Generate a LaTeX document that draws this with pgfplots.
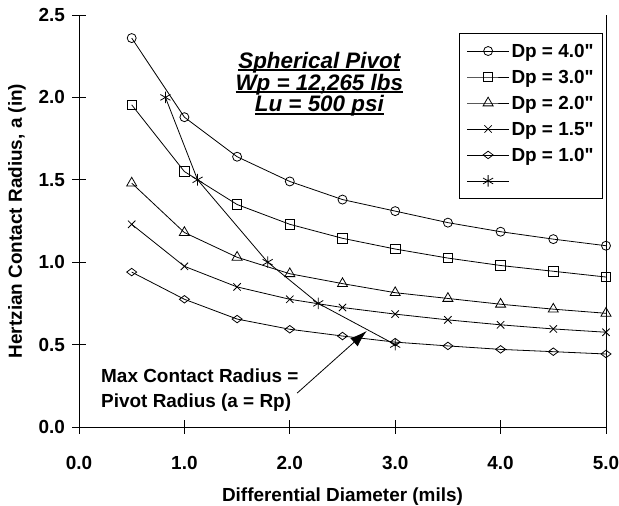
\documentclass[border=0pt]{standalone}
\usepackage{fontspec}
\setmainfont{Liberation Sans}
\newfontfamily\nolig{Liberation Sans}[Ligatures=TeXOff]
\usepackage{pgfplots}
\pgfplotsset{compat=1.18}
\usetikzlibrary{arrows.meta}
\newcommand{\lbl}{\fontsize{19}{22}\selectfont\bfseries}
\newcommand{\ul}[1]{\setbox0\hbox{#1}\rlap{\rule[-2.6bp]{\wd0}{1.6bp}}\box0}
\newcommand{\dq}{{\nolig\bfseries"}}
\begin{document}
\begin{tikzpicture}
\begin{axis}[
  scale only axis, width=527bp, height=412bp,
  xmin=0, xmax=5, ymin=0, ymax=2.5,
  axis x line=bottom, axis y line=left,
  axis line style={-, line width=0.8pt},
  xtick={0,1,2,3,4,5}, ytick={0,0.5,1,1.5,2,2.5},
  tick align=center, major tick length=13bp,
  tick style={line width=0.8pt, black},
  /pgf/number format/.cd, fixed, fixed zerofill, precision=1, assume math mode=true,
  /pgfplots/.cd,
  tick label style={font=\lbl},
  xticklabel style={anchor=center, yshift=-29bp},
  yticklabel style={anchor=east, xshift=-4bp},
  xlabel={Differential Diameter (mils)},
  ylabel={Hertzian Contact Radius, a (in)},
  label style={font=\lbl},
  xlabel style={at={(axis description cs:0.5,-0.168)}, anchor=center},
  ylabel style={at={(axis description cs:-0.1176,0.5)}, anchor=center},
  legend cell align=left,
  legend style={at={(rel axis cs:0.9943,0.956)}, anchor=north east, draw=black, line width=0.8pt,
    font=\lbl, row sep=7bp, inner xsep=7bp, inner ysep=8bp,
    nodes={text height=14bp, text depth=1bp}},
  legend image code/.code={\draw[mark repeat=2,mark phase=2,#1] plot coordinates {(0bp,0bp) (21bp,0bp) (42bp,0bp)};},
  every axis plot/.append style={black, line width=0.8pt, mark options={fill=white, solid}},
  clip=false,
]
\addplot[mark=o, mark size=4.5bp] coordinates {(0.5,2.36) (1.0,1.88) (1.5,1.64) (2.0,1.49) (2.5,1.38) (3.0,1.31) (3.5,1.24) (4.0,1.185) (4.5,1.14) (5.0,1.10)};
\addlegendentry{Dp = 4.0\dq}
\addplot[mark=square, mark size=4.7bp] coordinates {(0.5,1.955) (1.0,1.55) (1.5,1.35) (2.0,1.23) (2.5,1.145) (3.0,1.08) (3.5,1.025) (4.0,0.98) (4.5,0.945) (5.0,0.91)};
\addlegendentry{Dp = 3.0\dq}
\addplot[mark=triangle, mark size=5.8bp] coordinates {(0.5,1.48) (1.0,1.18) (1.5,1.03) (2.0,0.93) (2.5,0.87) (3.0,0.815) (3.5,0.78) (4.0,0.745) (4.5,0.715) (5.0,0.69)};
\addlegendentry{Dp = 2.0\dq}
\addplot[mark=x, mark size=5.2bp] coordinates {(0.5,1.23) (1.0,0.975) (1.5,0.85) (2.0,0.775) (2.5,0.725) (3.0,0.685) (3.5,0.65) (4.0,0.62) (4.5,0.595) (5.0,0.575)};
\addlegendentry{Dp = 1.5\dq}
\addplot[mark=diamond, mark size=5bp, mark options={rotate=90}] coordinates {(0.5,0.94) (1.0,0.775) (1.5,0.655) (2.0,0.593) (2.5,0.552) (3.0,0.515) (3.5,0.492) (4.0,0.471) (4.5,0.457) (5.0,0.443)};
\addlegendentry{Dp = 1.0\dq}
\addplot[mark=asterisk, mark size=5.8bp] coordinates {(0.82,2.0) (1.125,1.5) (1.79,1.0) (2.27,0.75) (3.0,0.5)};
\addlegendentry{}
\draw[line width=0.8pt] (axis cs:5,0) -- (axis cs:5,2.5);
\node[align=center, font=\fontsize{22.5}{20.8}\selectfont\bfseries\itshape] at (axis cs:2.28,2.08)
  {\ul{Spherical Pivot}\\\ul{Wp = 12,265 lbs}\\\ul{Lu = 500 psi}};
\node[anchor=base west, inner sep=0pt, font=\lbl] at (axis cs:0.209,0.267) {Max Contact Radius =};
\node[anchor=base west, inner sep=0pt, font=\lbl] at (axis cs:0.209,0.121) {Pivot Radius (a = Rp)};
\draw[line width=0.8pt, -{Latex[length=17bp,width=11bp]}] (axis cs:2.07,0.206) -- (axis cs:2.73,0.583);
\end{axis}
\pgfresetboundingbox
\path (-79bp,-79bp) rectangle (540bp,427bp);
\end{tikzpicture}
\end{document}
